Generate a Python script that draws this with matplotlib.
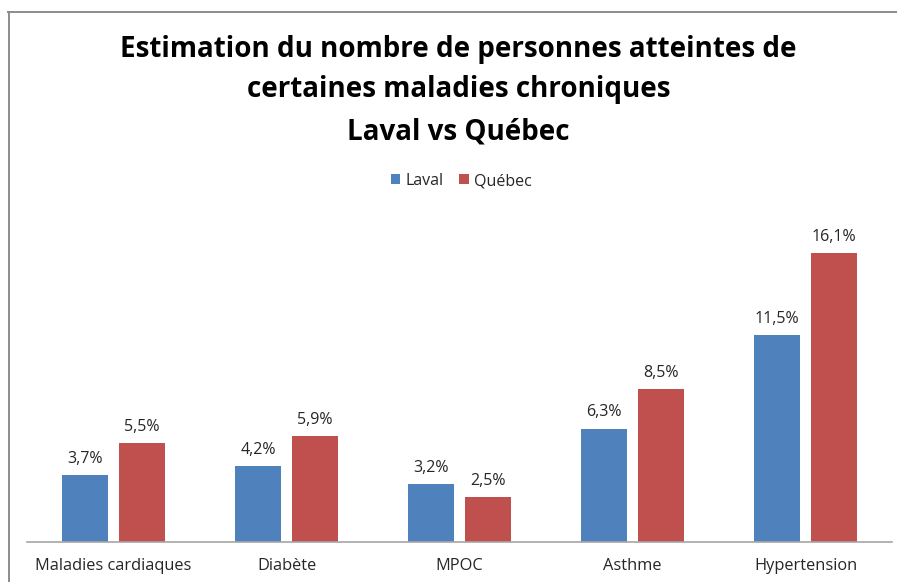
import matplotlib
matplotlib.use("Agg")
import matplotlib.pyplot as plt
from matplotlib.lines import Line2D
import numpy as np

# Data
categories = ["Maladies cardiaques", "Diabète", "MPOC", "Asthme", "Hypertension"]
laval = [3.7, 4.2, 3.2, 6.3, 11.5]
quebec = [5.5, 5.9, 2.5, 8.5, 16.1]
series_names = ["Laval", "Québec"]
colors = ["#4F81BD", "#C0504D"]

W, H = 897, 582
plt.rcParams['font.family'] = ['Open Sans', 'DejaVu Sans']

fig = plt.figure(figsize=(W / 100, H / 100), dpi=100)
fig.patch.set_facecolor("white")

# chart border (gray frame, like the Excel chart area)
fig.add_artist(Line2D([8.5 / W, 8.5 / W], [0, 1 - 11.5 / H], transform=fig.transFigure,
                      color="#8c8c8c", lw=1.4))
fig.add_artist(Line2D([8 / W, 1], [1 - 11.5 / H, 1 - 11.5 / H], transform=fig.transFigure,
                      color="#8c8c8c", lw=1.4))

# plot area
ax = fig.add_axes([27 / W, (H - 541.7) / H, 865 / W, 340.7 / H])
x = np.arange(len(categories))
width = 0.27
off = 0.165

b1 = ax.bar(x - off, laval, width, color=colors[0], label=series_names[0])
b2 = ax.bar(x + off, quebec, width, color=colors[1], label=series_names[1])

for bars, vals in [(b1, laval), (b2, quebec)]:
    for rect, v in zip(bars, vals):
        ax.annotate(f"{v:.1f}%".replace(".", ","),
                    (rect.get_x() + rect.get_width() / 2, rect.get_height()),
                    xytext=(0, 6), textcoords="offset points",
                    ha="center", va="bottom", fontsize=11.5, color="#262626")

ax.set_xlim(-0.5, len(categories) - 0.5)
ax.set_ylim(0, 19)
ax.set_xticks(x)
ax.set_xticklabels(categories, fontsize=11.8, color="#262626")
ax.tick_params(axis="x", length=0, pad=12)
ax.set_yticks([])
for s in ["top", "right", "left"]:
    ax.spines[s].set_visible(False)
ax.spines["bottom"].set_color("#a6a6a6")
ax.spines["bottom"].set_linewidth(1.2)

# title
for txt, yp in [("Estimation du nombre de personnes atteintes de", 49),
                ("certaines maladies chroniques", 90),
                ("Laval vs Québec", 132)]:
    fig.text(0.511, 1 - yp / H, txt, ha="center", va="center",
             fontsize=20, fontweight="bold", color="black")

# legend
fig.legend(handles=[b1, b2], labels=series_names, loc="center",
           bbox_to_anchor=(461 / W, 1 - 181 / H), ncol=2, frameon=False,
           fontsize=11.5, handlelength=0.6, handleheight=0.6, handletextpad=0.3,
           columnspacing=1.0, labelcolor="#262626")

fig.savefig("out.png", dpi=100)
